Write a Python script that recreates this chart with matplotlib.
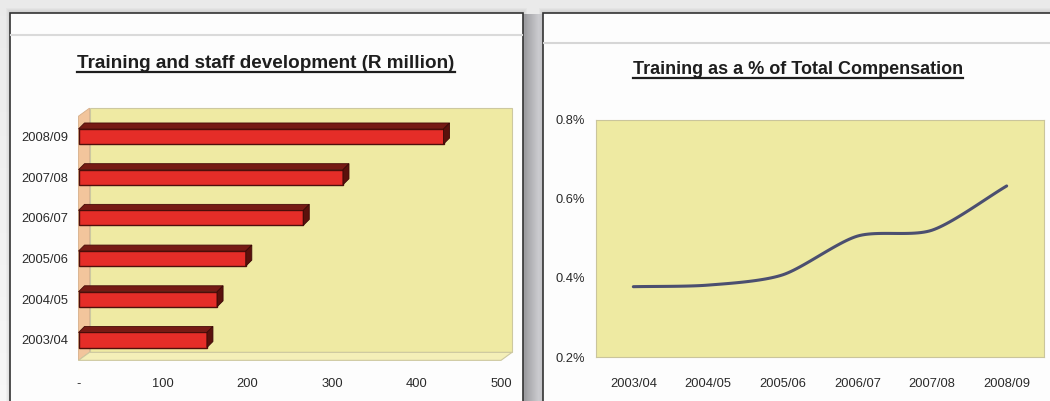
import numpy as np
import matplotlib
matplotlib.use("Agg")
import matplotlib.pyplot as plt
from matplotlib.patches import Polygon, Rectangle

# ---------------- data ----------------
bar_categories = ["2003/04", "2004/05", "2005/06", "2006/07", "2007/08", "2008/09"]
bar_values = [152, 164, 198, 266, 313, 432]          # R million
bar_ticks = [0, 100, 200, 300, 400, 500]
bar_tick_labels = ["-", "100", "200", "300", "400", "500"]

line_categories = ["2003/04", "2004/05", "2005/06", "2006/07", "2007/08", "2008/09"]
line_values = [0.378, 0.382, 0.408, 0.506, 0.521, 0.633]   # percent
line_ticks = [0.2, 0.4, 0.6, 0.8]
line_tick_labels = ["0.2%", "0.4%", "0.6%", "0.8%"]

title_left = "Training and staff development (R million)"
title_right = "Training as a % of Total Compensation"

plt.rcParams['font.family'] = ['Liberation Sans', 'DejaVu Sans']

W, H = 1050, 401
fig = plt.figure(figsize=(W / 100, H / 100), dpi=100)
fig.patch.set_facecolor("#e9e9e9")

def fig_rect(x0, y0, x1, y1):
    """pixel box (top-left origin) -> figure fraction [l, b, w, h]"""
    return [x0 / W, 1 - y1 / H, (x1 - x0) / W, (y1 - y0) / H]

# background / decoration axes in pixel coords
bg = fig.add_axes([0, 0, 1, 1])
bg.set_xlim(0, W)
bg.set_ylim(H, 0)
bg.axis("off")
grad = np.linspace(0.92, 0.97, 50).reshape(-1, 1)
bg.imshow(np.dstack([grad, grad, grad]), extent=[0, W, H, 0], aspect="auto", zorder=0)
# gap shadow between panels (dark near left panel, lighter toward right one)
gap = np.linspace(0, 1, 40)
shade = 0.60 + 0.25 * gap + 0.08 * np.exp(-((gap) / 0.08) ** 2)
shade = np.clip(shade, 0, 1).reshape(1, -1)
bg.imshow(np.dstack([shade, shade, shade * 1.02]).clip(0, 1), extent=[523, 543, H, 14],
          aspect="auto", zorder=1)
for i in range(6):
    bg.add_patch(Rectangle((6 + i, 8 + i), 521 - 2 * i, H, color="#777777", alpha=0.05, lw=0, zorder=1))
    bg.add_patch(Rectangle((539 + i, 8 + i), W, H, color="#777777", alpha=0.05, lw=0, zorder=1))
# panels
bg.add_patch(Rectangle((10, 13), 513, H, facecolor="#fdfdfd", edgecolor="#333333", lw=1.2, zorder=2))
bg.add_patch(Rectangle((543, 13), W, H, facecolor="#fdfdfd", edgecolor="#333333", lw=1.2, zorder=2))
bg.plot([11, 522], [35, 35], color="#dadada", lw=1.5, zorder=3)
bg.plot([544, W], [43, 43], color="#d6d6d6", lw=1.5, zorder=3)

# titles
t1 = bg.text(266, 64, title_left, fontsize=13.6, fontweight="bold", color="#1e1e1e",
             ha="center", va="center", zorder=4)
t2 = bg.text(798, 70, title_right, fontsize=13.0, fontweight="bold", color="#1e1e1e",
             ha="center", va="center", zorder=4)

# ---------------- left: 3D-looking horizontal bars ----------------
pxu = 0.845      # pixels per R million
pyc = 40.7       # pixels per category
x0px, y0px = 78.5, 340.0
ax_l, ax_r, ax_t, ax_b = 70, 520, 100, 370
ax1 = fig.add_axes(fig_rect(ax_l, ax_t, ax_r, ax_b))
ax1.set_xlim((ax_l - x0px) / pxu, (ax_r - x0px) / pxu)
ax1.set_ylim((y0px - ax_b) / pyc, (y0px - ax_t) / pyc)
ax1.patch.set_visible(False)
for s in ax1.spines.values():
    s.set_visible(False)

ddx, ddy = 11 / pxu, 8 / pyc
ylo, yhi = -0.5, 5.5
xmax = 500
ax1.add_patch(Polygon([(ddx, ylo + ddy), (xmax + ddx, ylo + ddy), (xmax + ddx, yhi + ddy), (ddx, yhi + ddy)],
                      closed=True, facecolor="#efeaa3", edgecolor="#cdc8a0", lw=0.8, zorder=1))
ax1.add_patch(Polygon([(0, ylo), (ddx, ylo + ddy), (ddx, yhi + ddy), (0, yhi)],
                      closed=True, facecolor="#f2c59c", edgecolor="#d6ae88", lw=0.6, zorder=1))
ax1.add_patch(Polygon([(0, ylo), (xmax, ylo), (xmax + ddx, ylo + ddy), (ddx, ylo + ddy)],
                      closed=True, facecolor="#f4efb8", edgecolor="#cdc8a0", lw=0.8, zorder=1))

ypos = np.arange(len(bar_categories))
bh = 0.37
bdx, bdy = 6 / pxu, 6 / pyc
ax1.barh(ypos, bar_values, height=bh, left=0, color="#e52d28", edgecolor="#4f0f0b", lw=1.0, zorder=3)
for yi, v in zip(ypos, bar_values):
    top = yi + bh / 2
    bot = yi - bh / 2
    ax1.add_patch(Polygon([(0, top), (v, top), (v + bdx, top + bdy), (bdx, top + bdy)],
                          closed=True, facecolor="#761a14", edgecolor="#460c08", lw=0.6, zorder=3))
    ax1.add_patch(Polygon([(v, bot), (v + bdx, bot + bdy), (v + bdx, top + bdy), (v, top)],
                          closed=True, facecolor="#5a110c", edgecolor="#3a0906", lw=0.6, zorder=3))

ax1.set_yticks(ypos)
ax1.set_yticklabels(bar_categories)
ax1.set_xticks(bar_ticks)
ax1.set_xticklabels(bar_tick_labels)
ax1.tick_params(axis="both", length=0, labelsize=9.3, colors="#2a2a2a")
ax1.tick_params(axis="y", pad=1)
ax1.tick_params(axis="x", pad=6)

# ---------------- right: smoothed line ----------------
ax2 = fig.add_axes(fig_rect(596, 120, 1044, 357))
ax2.set_facecolor("#eeeaa2")
for s in ax2.spines.values():
    s.set_color("#cac59c")
    s.set_linewidth(0.8)
xs = np.arange(len(line_categories), dtype=float)
ys = np.array(line_values)

# Catmull-Rom rendering of the smoothed line through the data points
def catmull(x, y, n=24):
    px = np.concatenate([[2 * x[0] - x[1]], x, [2 * x[-1] - x[-2]]])
    py = np.concatenate([[2 * y[0] - y[1]], y, [2 * y[-1] - y[-2]]])
    outx, outy = [], []
    t = np.linspace(0, 1, n, endpoint=False)
    for i in range(1, len(px) - 2):
        p0, p1, p2, p3 = [np.array([px[j], py[j]]) for j in (i - 1, i, i + 1, i + 2)]
        m1 = (p2 - p0) / 2 * 0.8
        m2 = (p3 - p1) / 2 * 0.8
        h00 = 2 * t**3 - 3 * t**2 + 1
        h10 = t**3 - 2 * t**2 + t
        h01 = -2 * t**3 + 3 * t**2
        h11 = t**3 - t**2
        pts = np.outer(h00, p1) + np.outer(h10, m1) + np.outer(h01, p2) + np.outer(h11, m2)
        outx.extend(pts[:, 0]); outy.extend(pts[:, 1])
    outx.append(x[-1]); outy.append(y[-1])
    return np.array(outx), np.array(outy)

sx, sy = catmull(xs, ys)
ax2.plot(sx, sy, color="#4b4f70", lw=2.2, solid_capstyle="round")
ax2.set_xlim(-0.5, len(line_categories) - 0.5)
ax2.set_ylim(0.2, 0.8)
ax2.set_yticks(line_ticks)
ax2.set_yticklabels(line_tick_labels)
ax2.set_xticks(xs)
ax2.set_xticklabels(line_categories)
ax2.tick_params(axis="both", length=0, labelsize=9.3, colors="#2a2a2a")
ax2.tick_params(axis="y", pad=8)
ax2.tick_params(axis="x", pad=15)

# underline titles
fig.canvas.draw()
r = fig.canvas.get_renderer()
inv = bg.transData.inverted()
for t in (t1, t2):
    bb = t.get_window_extent(renderer=r)
    (xa, ya), (xb, yb) = inv.transform([(bb.x0, bb.y0), (bb.x1, bb.y1)])
    yy = max(ya, yb) - 1.0
    bg.plot([xa, xb], [yy, yy], color="#1e1e1e", lw=1.6, zorder=4)

fig.savefig("out.png", dpi=100, facecolor=fig.get_facecolor())
